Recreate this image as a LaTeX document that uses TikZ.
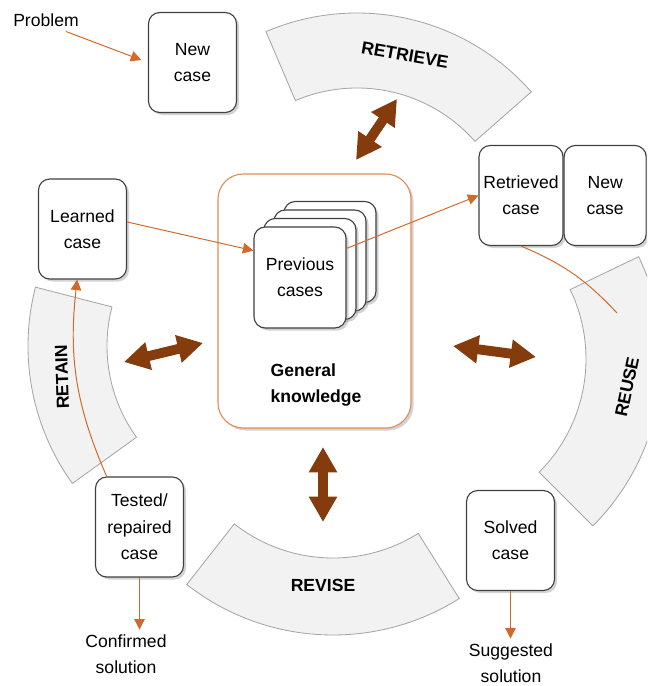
\documentclass[tikz,border=0pt]{standalone}
\usepackage{fontspec}
\setmainfont{Liberation Sans}
\usepackage{tikz}
\usetikzlibrary{positioning,arrows.meta,shadows}

\definecolor{segfill}{HTML}{F2F2F2}
\definecolor{seggray}{HTML}{A6A6A6}
\definecolor{boxgray}{HTML}{404040}
\definecolor{arrbrown}{HTML}{843C0C}
\definecolor{lineor}{RGB}{210,105,40}
\definecolor{gkorange}{RGB}{228,140,88}

\tikzset{
  phase/.style={draw=seggray, fill=segfill, line width=0.6pt},
  phaselabel/.style={font=\fontsize{12.5}{15}\selectfont\bfseries},
  casebox/.style={rectangle, draw=boxgray, fill=white, line width=0.8pt,
    rounded corners=8pt, minimum width=2.2cm, minimum height=2.5cm,
    inner sep=0pt, align=center, font=\fontsize{12.5}{18.8}\selectfont,
    drop shadow={shadow xshift=1.8pt, shadow yshift=-1.8pt, opacity=0.35}},
  card/.style={casebox, minimum width=2.3cm, minimum height=2.525cm},
  gkbox/.style={rectangle, draw=gkorange, fill=white, line width=0.8pt,
    rounded corners=18pt, minimum width=4.825cm, minimum height=6.35cm,
    drop shadow={shadow xshift=1.8pt, shadow yshift=-1.8pt, opacity=0.35}},
  gklabel/.style={align=left, font=\fontsize{12.5}{18}\selectfont\bfseries},
  plain/.style={align=center, font=\fontsize{12.5}{18.5}\selectfont},
  flow/.style={draw=lineor, line width=0.7pt, -{Triangle[length=7.5pt,width=7.5pt]}},
  flowline/.style={draw=lineor, line width=0.7pt},
  dblarrow/.style={draw=arrbrown, line width=7pt,
    arrows={Triangle[length=18pt,width=19pt]-Triangle[length=18pt,width=19pt]}}
}

\begin{document}
\begin{tikzpicture}[x=0.025cm,y=0.025cm]
  \useasboundingbox (0,0) rectangle (647,686);
  \clip (0,0) rectangle (647,686);

  \coordinate (retrievec) at (357,441);
  \coordinate (reusec) at (426,327);
  \coordinate (revisec) at (333,288);
  \coordinate (retainc) at (263,340);

  \draw[phase] ([shift={(41.3:157)}]retrievec) arc[start angle=41.3,end angle=113.1,radius=157]
    -- ([shift={(113.1:232)}]retrievec) arc[start angle=113.1,end angle=41.3,radius=232] -- cycle;
  \draw[phase] ([shift={(-45:160)}]reusec) arc[start angle=-45,end angle=25.7,radius=160]
    -- ([shift={(25.7:236)}]reusec) arc[start angle=25.7,end angle=-45,radius=236] -- cycle;
  \draw[phase] ([shift={(231.9:160)}]revisec) arc[start angle=231.9,end angle=302.2,radius=160]
    -- ([shift={(302.2:237)}]revisec) arc[start angle=302.2,end angle=231.9,radius=237] -- cycle;
  \draw[phase] ([shift={(165.5:156)}]retainc) arc[start angle=165.5,end angle=215.8,radius=156]
    -- ([shift={(215.8:235)}]retainc) arc[start angle=215.8,end angle=165.5,radius=235] -- cycle;

  \node[phaselabel,rotate=-10] (retrievelbl) at (405,631) {RETRIEVE};
  \node[phaselabel,rotate=78] (reuselbl) at (627,299) {REUSE};
  \node[phaselabel] (reviselbl) at (323,101) {REVISE};
  \node[phaselabel,rotate=92] (retainlbl) at (62,309) {RETAIN};

  \node[gkbox] (gk) at (314.5,385) {};
  \node[card] (card4) at (330,434) {};
  \node[card] (card3) at (320,425.5) {};
  \node[card] (card2) at (310,417) {};
  \node[card] (card1) at (300,408.5) {Previous\\cases};
  \node[gklabel] (gklbl) at (316,301) {General\\knowledge};

  \node[casebox] (newcase) at (192.5,623.5) {New\\case};
  \node[casebox,minimum width=2.1cm] (retrieved) at (521,490.5) {Retrieved\\case};
  \node[casebox,minimum width=2.05cm,right=0pt of retrieved] (newcase2) {New\\case};
  \node[casebox] (learned) at (82.5,457) {Learned\\case};
  \node[casebox] (tested) at (139.5,159) {Tested/\\repaired\\case};
  \node[casebox] (solved) at (510.5,145.5) {Solved\\case};

  \node[plain] (problem) at (46,666) {Problem};
  \node[plain] (confirmed) at (126,32) {Confirmed\\solution};
  \node[plain] (suggested) at (511,23) {Suggested\\solution};
  \coordinate (reuseend) at (617,373);

  \draw[flow,shorten >=5pt] (problem.-30) -- (newcase.west);
  \draw[flow] (learned.9) -- (card1.150);
  \draw[flow] (card1.32) -- (retrieved.west);
  \draw[flowline] (retrieved.south) to[bend left=12] (reuseend);
  \draw[flow] (tested.123) to[bend left=15] (learned.264);
  \draw[flow] (tested.south) -- (tested.south |- confirmed.north);
  \draw[flow] (solved.south) -- (solved.south |- suggested.north);

  \coordinate (retrA) at (356,526); \coordinate (retrB) at (397,587);
  \coordinate (retaA) at (124,324); \coordinate (retaB) at (203,343);
  \coordinate (reusA) at (453,340); \coordinate (reusB) at (536,329);
  \coordinate (reviA) at (323,239); \coordinate (reviB) at (323,164);
  \draw[dblarrow] (retrA) -- (retrB);
  \draw[dblarrow] (retaA) -- (retaB);
  \draw[dblarrow] (reusA) -- (reusB);
  \draw[dblarrow] (reviA) -- (reviB);
\end{tikzpicture}
\end{document}
